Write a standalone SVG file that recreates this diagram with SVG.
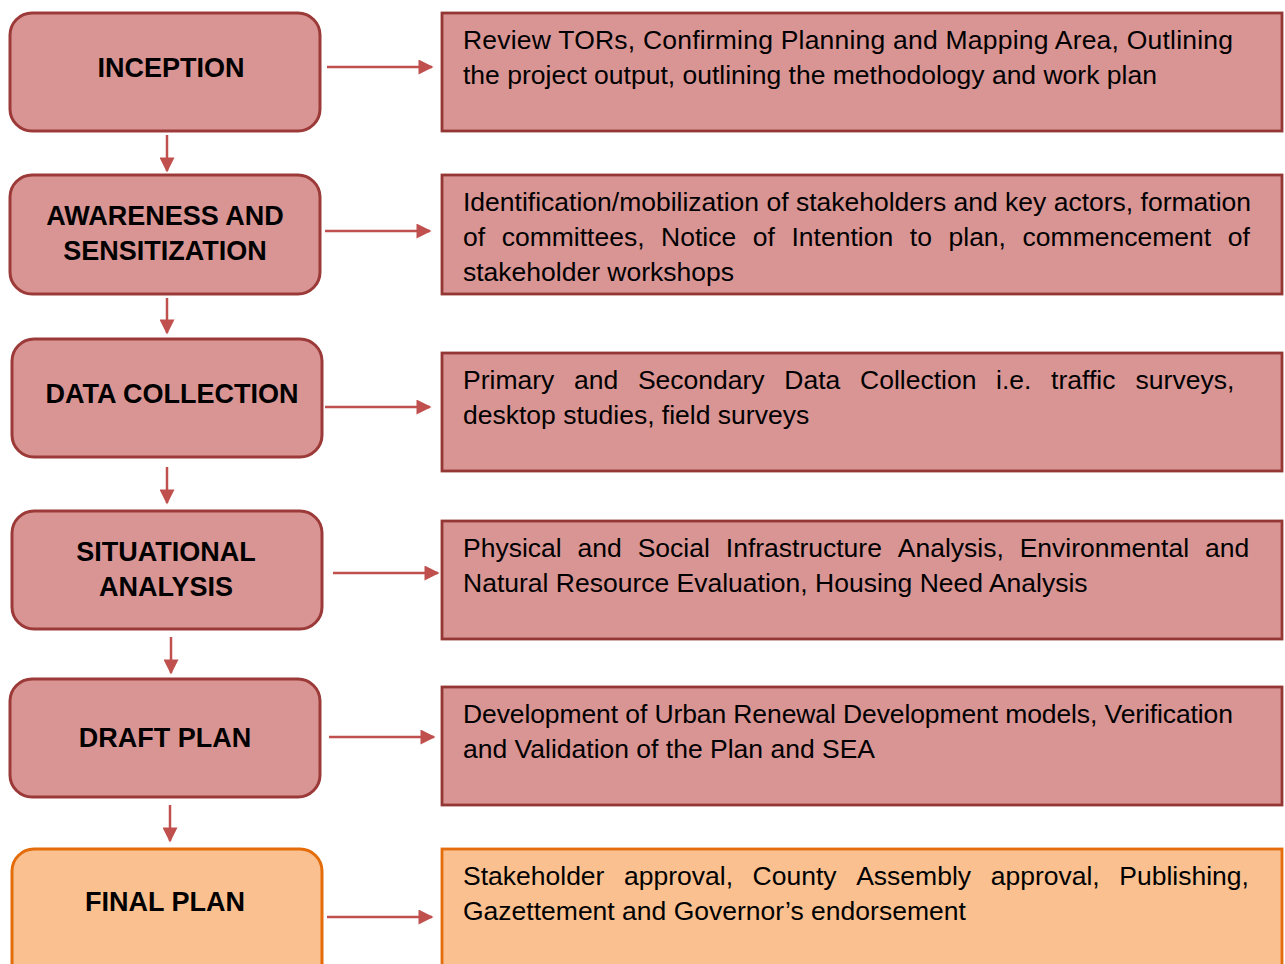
<svg xmlns="http://www.w3.org/2000/svg" width="1285" height="964" viewBox="0 0 1285 964">
<style>
.node{fill:#d99594;stroke:#9b3a38;stroke-width:3}
.fnode{fill:#fac090;stroke:#e46c0a;stroke-width:3}
.box{fill:#d99594;stroke:#943634;stroke-width:2.8}
.fbox{fill:#fac090;stroke:#e46c0a;stroke-width:2.8}
.lbl{font-family:"Liberation Sans",Arial,sans-serif;font-weight:bold;font-size:27px;fill:#000;text-anchor:middle}
.txt{font-family:"Liberation Sans",Arial,sans-serif;font-size:26.5px;fill:#000}
.con{stroke:#c0504d;stroke-width:2.5;fill:none;marker-end:url(#ah)}
</style>
<defs>
<marker id="ah" viewBox="0 0 10 10" refX="9" refY="5" markerWidth="6.5" markerHeight="6" markerUnits="strokeWidth" orient="auto">
<path d="M0,0 L10,5 L0,10 z" fill="#c0504d"/>
</marker>
</defs>
<g id="connectors">
<line class="con" x1="327" y1="67" x2="432" y2="67"/>
<line class="con" x1="325" y1="231" x2="430" y2="231"/>
<line class="con" x1="325" y1="407" x2="430" y2="407"/>
<line class="con" x1="333" y1="573" x2="438" y2="573"/>
<line class="con" x1="329" y1="737" x2="434" y2="737"/>
<line class="con" x1="327" y1="917" x2="432" y2="917"/>
<line class="con" x1="167" y1="135" x2="167" y2="171"/>
<line class="con" x1="167" y1="298" x2="167" y2="333"/>
<line class="con" x1="167" y1="467" x2="167" y2="503"/>
<line class="con" x1="171" y1="637" x2="171" y2="673"/>
<line class="con" x1="170" y1="805" x2="170" y2="841"/>
</g>
<g id="n1"><rect class="node" x="10" y="13" width="310" height="118" rx="22"/><text class="lbl" x="171" y="77">INCEPTION</text></g>
<g id="n2"><rect class="node" x="10" y="175" width="310" height="119" rx="22"/><text class="lbl" x="165" y="225">AWARENESS AND</text><text class="lbl" x="165" y="260">SENSITIZATION</text></g>
<g id="n3"><rect class="node" x="12" y="339" width="310" height="118" rx="22"/><text class="lbl" x="172" y="403">DATA COLLECTION</text></g>
<g id="n4"><rect class="node" x="12" y="511" width="310" height="118" rx="22"/><text class="lbl" x="166" y="561">SITUATIONAL</text><text class="lbl" x="166" y="596">ANALYSIS</text></g>
<g id="n5"><rect class="node" x="10" y="679" width="310" height="118" rx="22"/><text class="lbl" x="165" y="747">DRAFT PLAN</text></g>
<g id="n6"><rect class="fnode" x="12" y="849" width="310" height="140" rx="22"/><text class="lbl" x="165" y="911">FINAL PLAN</text></g>
<g id="b1"><rect class="box" x="442" y="13" width="840" height="118"/>
<text class="txt" x="463" y="49" textLength="770" lengthAdjust="spacing">Review TORs, Confirming Planning and Mapping Area, Outlining</text>
<text class="txt" x="463" y="84">the project output, outlining the methodology and work plan</text></g>
<g id="b2"><rect class="box" x="442" y="175" width="840" height="119"/>
<text class="txt" x="463" y="211">Identification/mobilization of stakeholders and key actors, formation</text>
<text class="txt" y="246"><tspan x="463">of</tspan><tspan x="501.7">committees,</tspan><tspan x="661.1">Notice</tspan><tspan x="752.8">of</tspan><tspan x="791.5">Intention</tspan><tspan x="909.8">to</tspan><tspan x="948.5">plan,</tspan><tspan x="1022.6">commencement</tspan><tspan x="1227.7">of</tspan></text>
<text class="txt" x="463" y="281">stakeholder workshops</text></g>
<g id="b3"><rect class="box" x="442" y="353" width="840" height="118"/>
<text class="txt" y="389"><tspan x="463">Primary</tspan><tspan x="574">and</tspan><tspan x="637.9">Secondary</tspan><tspan x="784.3">Data</tspan><tspan x="860">Collection</tspan><tspan x="996">i.e.</tspan><tspan x="1051.1">traffic</tspan><tspan x="1135.6">surveys,</tspan></text>
<text class="txt" x="463" y="424">desktop studies, field surveys</text></g>
<g id="b4"><rect class="box" x="442" y="521" width="840" height="118"/>
<text class="txt" y="557"><tspan x="463">Physical</tspan><tspan x="577.6">and</tspan><tspan x="637.7">Social</tspan><tspan x="725.8">Infrastructure</tspan><tspan x="897.8">Analysis,</tspan><tspan x="1019.7">Environmental</tspan><tspan x="1205">and</tspan></text>
<text class="txt" x="463" y="592">Natural Resource Evaluation, Housing Need Analysis</text></g>
<g id="b5"><rect class="box" x="442" y="687" width="840" height="118"/>
<text class="txt" x="463" y="723" textLength="770" lengthAdjust="spacing">Development of Urban Renewal Development models, Verification</text>
<text class="txt" x="463" y="758">and Validation of the Plan and SEA</text></g>
<g id="b6"><rect class="fbox" x="442" y="849" width="840" height="140"/>
<text class="txt" y="885"><tspan x="463">Stakeholder</tspan><tspan x="624">approval,</tspan><tspan x="752.6">County</tspan><tspan x="856.2">Assembly</tspan><tspan x="990.7">approval,</tspan><tspan x="1119.3">Publishing,</tspan></text>
<text class="txt" x="463" y="920">Gazettement and Governor’s endorsement</text></g>
</svg>
